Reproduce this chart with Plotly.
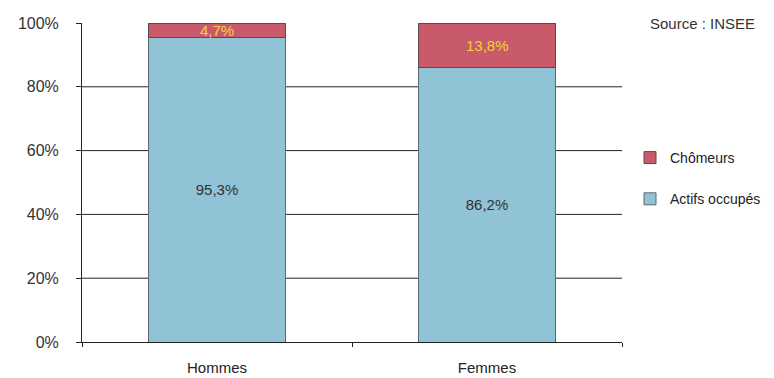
import plotly.graph_objects as go

categories = ["Hommes", "Femmes"]
actifs = [95.3, 86.2]
chomeurs = [4.7, 13.8]
y_ticks = [0, 20, 40, 60, 80, 100]
grid_vals = [20, 40, 60, 80]

def fr(v):
    return f"{v:.1f}".replace(".", ",") + "%"

FONT = "Liberation Sans, Arial, sans-serif"

fig = go.Figure()
fig.add_trace(go.Bar(
    x=categories, y=actifs, name="Actifs occupés",
    marker=dict(color="#8fc3d5", line=dict(color="#5a6a70", width=1)),
    text=[fr(v) for v in actifs], textposition="inside", insidetextanchor="middle",
    textfont=dict(color="#333333", size=15, family=FONT), constraintext="none",
    legendgroup="a", legendrank=2,
))
fig.add_trace(go.Bar(
    x=categories, y=chomeurs, name="Chômeurs",
    marker=dict(color="#c95a6b", line=dict(color="#5a4a4e", width=1)),
    legendgroup="b", legendrank=1,
))

annotations = []
for c, a, ch in zip(categories, actifs, chomeurs):
    annotations.append(dict(x=c, y=a + ch / 2, xref="x", yref="y", text=fr(ch),
                            showarrow=False, font=dict(color="#f2d23c", size=15, family=FONT)))
annotations.append(dict(text="Source : INSEE", xref="paper", yref="paper",
                        x=1.048, y=1.0, xanchor="left", yanchor="middle",
                        showarrow=False, font=dict(size=15, family=FONT, color="#333333")))

for v in grid_vals:
    fig.add_shape(type="line", xref="paper", x0=0, x1=1, yref="y", y0=v, y1=v,
                  line=dict(color="#222222", width=1), layer="below")

fig.update_layout(
    width=774, height=378,
    margin=dict(l=82, r=152, t=23, b=36, autoexpand=False),
    paper_bgcolor="white", plot_bgcolor="white",
    barmode="stack", bargap=0.49,
    font=dict(family=FONT, size=15, color="#222222"),
    legend=dict(xref="container", yref="container", x=630 / 774, y=1 - 142 / 378,
                xanchor="left", yanchor="top",
                traceorder="grouped", tracegroupgap=20,
                font=dict(size=14, family=FONT, color="#222222"), bgcolor="rgba(0,0,0,0)"),
    annotations=annotations,
)
fig.update_yaxes(range=[0, 100], tickvals=y_ticks, ticktext=[f"{v}%" for v in y_ticks],
                 showgrid=False, showline=True, linecolor="#222222", linewidth=1,
                 ticks="outside", ticklen=5, tickcolor="#222222", zeroline=False, automargin=False,
                 tickfont=dict(size=16, family=FONT, color="#333333"), ticklabelstandoff=14)
fig.update_xaxes(showline=True, linecolor="#222222", linewidth=1, automargin=False,
                 ticks="outside", ticklen=4, tickcolor="#222222", tickson="boundaries",
                 tickfont=dict(size=15, family=FONT, color="#222222"), ticklabelstandoff=12)

fig.write_html("out.html")
